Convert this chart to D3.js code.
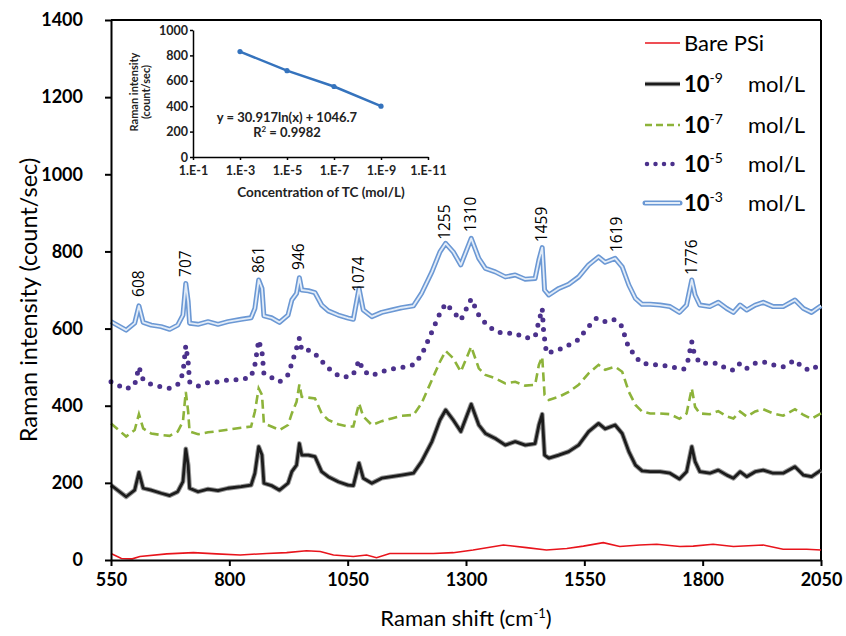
<!DOCTYPE html>
<html>
<head>
<meta charset="utf-8">
<script src="https://cdn.jsdelivr.net/npm/d3@7"></script>
<style>
  body { margin: 0; background: #fff; }
  text { font-family: Lato, "Open Sans", sans-serif; }
</style>
</head>
<body>
<div id="chart"></div>
<script>
// Raman shift positions (cm-1) shared by the 10^-9, 10^-7 and 10^-3 spectra
var shiftA = [550,582,600,609,618,635,656,674,691,702,
    708,713,716,734,755,776,797,825,846,854,
    862,869,873,889,906,924,932,942,948,953,
    967,981,995,1009,1030,1051,1062,1074,1083,1101,
    1122,1143,1164,1189,1206,1228,1245,1257,1273,1289,
    1311,1327,1341,1362,1383,1404,1425,1446,1454,1461,
    1466,1475,1496,1517,1538,1559,1580,1594,1615,1630,
    1644,1658,1672,1689,1710,1731,1751,1766,1777,1784,
    1794,1815,1833,1851,1865,1879,1893,1911,1928,1949,
    1970,1995,2013,2030,2050];

var conc9 = [194,164,181,227,186,181,173,167,177,203,
    288,246,186,177,184,180,186,190,194,225,
    294,272,199,193,181,199,229,246,302,272,
    272,268,229,216,203,194,193,251,212,199,
    212,216,220,225,255,307,363,389,363,333,
    404,350,328,315,298,307,298,302,350,378,
    272,264,272,281,298,333,354,340,350,328,
    281,246,231,229,229,225,210,229,294,255,
    229,225,233,220,212,229,216,229,233,225,
    225,242,220,216,233];

var conc7 = [354,320,337,378,341,328,324,322,333,359,
    436,385,333,326,331,334,338,343,346,385,
    445,428,354,346,337,350,380,410,455,423,
    421,419,380,363,352,346,346,406,372,350,
    360,367,374,376,406,467,514,542,523,488,
    553,497,480,471,458,462,452,454,506,527,
    428,415,423,436,454,484,506,493,501,488,
    436,402,385,380,380,378,366,380,445,397,
    380,378,386,372,367,385,372,385,391,380,
    374,391,376,366,380];

var conc3 = [618,596,614,659,616,609,605,598,609,635,
    717,670,614,611,618,611,618,624,628,652,
    726,704,633,628,616,635,674,691,732,700,
    698,693,661,646,635,627,624,704,648,631,
    642,648,654,659,691,747,799,821,799,765,
    834,782,756,747,734,739,728,730,778,810,
    700,687,704,715,734,765,786,772,782,760,
    713,678,663,663,661,657,642,661,726,687,
    661,657,668,652,642,661,648,661,668,657,
    657,674,652,642,659];

// 10^-5 spectrum
var shiftB = [550,582,600,609,618,635,656,674,691,702,
    708,713,716,734,755,776,797,825,846,854,
    862,869,873,889,906,924,932,942,948,953,
    970,988,1002,1016,1034,1055,1065,1074,1083,1101,
    1122,1143,1164,1189,1206,1228,1245,1257,1273,1289,
    1311,1327,1341,1362,1383,1404,1425,1446,1452,1461,
    1464,1470,1494,1515,1536,1559,1576,1594,1611,1627,
    1635,1644,1654,1668,1689,1710,1731,1760,1769,1777,
    1782,1794,1815,1833,1851,1865,1879,1893,1911,1928,
    1949,1970,1995,2013,2030,2050];
var conc5 = [462,443,454,501,467,455,449,445,455,484,
    556,514,462,451,460,462,467,467,475,506,
    570,540,484,473,462,480,510,549,575,544,
    544,527,506,490,475,475,488,518,490,478,
    488,495,499,506,531,592,640,665,644,622,
    677,635,614,592,588,588,575,579,609,652,
    592,536,544,556,570,605,627,618,624,611,
    583,549,536,512,506,506,501,495,518,566,
    536,510,510,510,495,492,510,497,510,514,
    506,501,518,497,492,510];

// bare porous silicon
var shiftBare = [550,572,595,611,668,724,773,823,879,921,963,992,1020,1062,1090,1111,1139,1189,1231,
    1273,1315,1379,1428,1470,1513,1548,1590,1625,1667,1703,1752,1780,1822,1865,1928,1970,2020,2050];
var bare = [17,4,3,9,16,19,16,13,17,19,24,22,13,9,13,6,17,17,17,
    19,26,39,32,26,30,36,45,35,39,41,35,36,41,35,39,28,28,26];

var peaks = [608,707,861,946,1074,1255,1310,1459,1619,1776];
var peakLabelAt = [682,734,744,752,695,830,850,824,798,739];

var xTicks = [550,800,1050,1300,1550,1800,2050];
var yTicks = [0,200,400,600,800,1000,1200,1400];

// inset calibration
var insetConc = [1e-3,1e-5,1e-7,1e-9];
var insetVal = [830,680,555,400];
var insetXTicks = [1e-1,1e-3,1e-5,1e-7,1e-9,1e-11];
var insetXLabels = ["1.E-1","1.E-3","1.E-5","1.E-7","1.E-9","1.E-11"];
var insetYTicks = [0,200,400,600,800,1000];

var legendNames = ["Bare PSi","10","10","10","10"];
var legendExp = ["","-9","-7","-5","-3"];

var margin = { top: 20, right: 25, bottom: 76, left: 111 };
var W = 846, H = 636;
var plotL = margin.left, plotR = W - margin.right, plotT = margin.top, plotB = H - margin.bottom;

var svg = d3.select("#chart").append("svg")
    .attr("width", W).attr("height", H);

var x = d3.scaleLinear().domain([550, 2050]).range([plotL, plotR]);
var y = d3.scaleLinear().domain([0, 1400]).range([plotB, plotT]);

function lineOf(xs, ys) {
    return d3.line().x((d, i) => x(xs[i])).y(d => y(d))(ys);
}

// frame
svg.append("line").attr("x1", plotL).attr("x2", plotR).attr("y1", plotT).attr("y2", plotT)
    .attr("stroke", "#000").attr("stroke-width", 2);
svg.append("line").attr("x1", plotR).attr("x2", plotR).attr("y1", plotT).attr("y2", plotB)
    .attr("stroke", "#000").attr("stroke-width", 2);

// series
svg.append("path").attr("d", lineOf(shiftBare, bare))
    .attr("fill", "none").attr("stroke", "#e8141c").attr("stroke-width", 1.6);

svg.append("path").attr("d", lineOf(shiftA, conc9))
    .attr("fill", "none").attr("stroke", "#999").attr("stroke-width", 4.8).attr("stroke-linejoin", "round");
svg.append("path").attr("d", lineOf(shiftA, conc9))
    .attr("fill", "none").attr("stroke", "#1c1c1c").attr("stroke-width", 2.8).attr("stroke-linejoin", "round");

svg.append("path").attr("d", lineOf(shiftA, conc7))
    .attr("fill", "none").attr("stroke", "#8db33a").attr("stroke-width", 2.6)
    .attr("stroke-dasharray", "9,5");

svg.append("path").attr("d", lineOf(shiftB, conc5))
    .attr("fill", "none").attr("stroke", "#4b318c").attr("stroke-width", 5)
    .attr("stroke-linecap", "round").attr("stroke-dasharray", "0,9.6");

svg.append("path").attr("d", lineOf(shiftA, conc3))
    .attr("fill", "none").attr("stroke", "#6b98d4").attr("stroke-width", 5).attr("stroke-linejoin", "round");
svg.append("path").attr("d", lineOf(shiftA, conc3))
    .attr("fill", "none").attr("stroke", "#e2ecf8").attr("stroke-width", 1.8).attr("stroke-linejoin", "round");

// peak labels
svg.selectAll(".peak").data(peaks).enter().append("text")
    .attr("class", "peak")
    .attr("transform", (d, i) => `translate(${x(d)},${y(peakLabelAt[i])}) rotate(-90)`)
    .attr("dy", "0.35em")
    .style("font-family", "'Open Sans', sans-serif")
    .style("font-size", "15.5px")
    .text(d => d);

// axes
var xAxis = svg.append("g")
    .attr("transform", `translate(0,${plotB})`)
    .call(d3.axisBottom(x).tickValues(xTicks).tickFormat(d3.format("d"))
        .tickSize(6).tickPadding(7).tickSizeOuter(0));
var yAxis = svg.append("g")
    .attr("transform", `translate(${plotL},0)`)
    .call(d3.axisLeft(y).tickValues(yTicks).tickFormat(d3.format("d"))
        .tickSize(6).tickPadding(22).tickSizeOuter(0));
[xAxis, yAxis].forEach(function(g) {
    g.selectAll("path,line").attr("stroke", "#000").attr("stroke-width", 2);
    g.selectAll("text").style("font-size", "18px").style("font-weight", "bold")
        .style("font-family", "Lato, sans-serif").attr("fill", "#000");
});

svg.append("text")
    .attr("transform", `translate(29,300) rotate(-90)`)
    .attr("text-anchor", "middle")
    .attr("dy", "0.35em")
    .style("font-size", "23.5px")
    .text("Raman intensity (count/sec)");

var xl = svg.append("text")
    .attr("x", 466).attr("y", 626)
    .attr("text-anchor", "middle")
    .style("font-size", "22px");
xl.append("tspan").text("Raman shift (cm");
xl.append("tspan").attr("dy", -8).style("font-size", "13px").text("-1");
xl.append("tspan").attr("dy", 8).text(")");

// legend
var legendY = [43, 84, 125, 164, 203];
var lg = svg.append("g");
lg.append("line").attr("x1", 645).attr("x2", 680).attr("y1", legendY[0]).attr("y2", legendY[0])
    .attr("stroke", "#e8141c").attr("stroke-width", 1.6);
lg.append("line").attr("x1", 645).attr("x2", 680).attr("y1", legendY[1]).attr("y2", legendY[1])
    .attr("stroke", "#999").attr("stroke-width", 4.5);
lg.append("line").attr("x1", 645).attr("x2", 680).attr("y1", legendY[1]).attr("y2", legendY[1])
    .attr("stroke", "#1c1c1c").attr("stroke-width", 2.3);
lg.append("line").attr("x1", 645).attr("x2", 680).attr("y1", legendY[2]).attr("y2", legendY[2])
    .attr("stroke", "#8db33a").attr("stroke-width", 2.6).attr("stroke-dasharray", "7,4");
lg.append("line").attr("x1", 647).attr("x2", 680).attr("y1", legendY[3]).attr("y2", legendY[3])
    .attr("stroke", "#4b318c").attr("stroke-width", 4.5).attr("stroke-linecap", "round")
    .attr("stroke-dasharray", "0,8.5");
lg.append("line").attr("x1", 645).attr("x2", 680).attr("y1", legendY[4]).attr("y2", legendY[4])
    .attr("stroke", "#6b98d4").attr("stroke-width", 5).attr("stroke-linecap", "round");
lg.append("line").attr("x1", 645).attr("x2", 680).attr("y1", legendY[4]).attr("y2", legendY[4])
    .attr("stroke", "#e2ecf8").attr("stroke-width", 1.8);

legendNames.forEach(function(n, i) {
    var t = lg.append("text").attr("x", 684).attr("y", legendY[i] + 8)
        .style("font-size", "22px");
    if (i === 0) {
        t.text(n);
    } else {
        t.append("tspan").style("font-weight", "bold").text(n);
        t.append("tspan").attr("dy", -9).style("font-size", "14px").text(legendExp[i]);
        lg.append("text").attr("x", 748).attr("y", legendY[i] + 8)
            .style("font-size", "22px").text("mol/L");
    }
});

// inset
var ix = d3.scaleLog().domain([1e-1, 1e-11]).range([193, 428]);
var iy = d3.scaleLinear().domain([0, 1000]).range([157, 30]);
var ixAxis = svg.append("g").attr("transform", "translate(0,157)")
    .call(d3.axisBottom(ix).tickValues(insetXTicks).tickFormat((d, i) => insetXLabels[i])
        .tickSize(3).tickPadding(6).tickSizeOuter(0));
var iyAxis = svg.append("g").attr("transform", "translate(193,0)")
    .call(d3.axisLeft(iy).tickValues(insetYTicks).tickFormat(d3.format("d"))
        .tickSize(3).tickPadding(2).tickSizeOuter(0));
[ixAxis, iyAxis].forEach(function(g) {
    g.selectAll("path,line").attr("stroke", "#000").attr("stroke-width", 1.5);
    g.selectAll("text").style("font-size", "12.5px").style("font-weight", "bold")
        .style("font-family", "Lato, sans-serif").attr("fill", "#222");
});

svg.append("path")
    .attr("d", d3.line().x((d, i) => ix(insetConc[i])).y(d => iy(d))(insetVal))
    .attr("fill", "none").attr("stroke", "#3573bd").attr("stroke-width", 2.5);
svg.selectAll(".ipt").data(insetVal).enter().append("circle")
    .attr("class", "ipt")
    .attr("cx", (d, i) => ix(insetConc[i])).attr("cy", d => iy(d)).attr("r", 2.6)
    .attr("fill", "#3573bd");

svg.append("text").attr("x", 287).attr("y", 122).attr("text-anchor", "middle")
    .style("font-size", "13px").style("font-weight", "bold").attr("fill", "#222")
    .text("y = 30.917ln(x) + 1046.7");
var r2 = svg.append("text").attr("x", 287).attr("y", 137).attr("text-anchor", "middle")
    .style("font-size", "13px").style("font-weight", "bold").attr("fill", "#222");
r2.append("tspan").text("R");
r2.append("tspan").attr("dy", -5).style("font-size", "8px").text("2");
r2.append("tspan").attr("dy", 5).text(" = 0.9982");

svg.append("text").attr("x", 321).attr("y", 197).attr("text-anchor", "middle")
    .style("font-size", "13.5px").style("font-weight", "bold").attr("fill", "#222")
    .text("Concentration of TC (mol/L)");
svg.append("text").attr("transform", "translate(134,92) rotate(-90)")
    .attr("text-anchor", "middle").attr("dy", "0.35em")
    .style("font-size", "11px").style("font-weight", "bold").attr("fill", "#222")
    .text("Raman intensity");
svg.append("text").attr("transform", "translate(146,92) rotate(-90)")
    .attr("text-anchor", "middle").attr("dy", "0.35em")
    .style("font-size", "11px").style("font-weight", "bold").attr("fill", "#222")
    .text("(count/sec)");
</script>
</body>
</html>
